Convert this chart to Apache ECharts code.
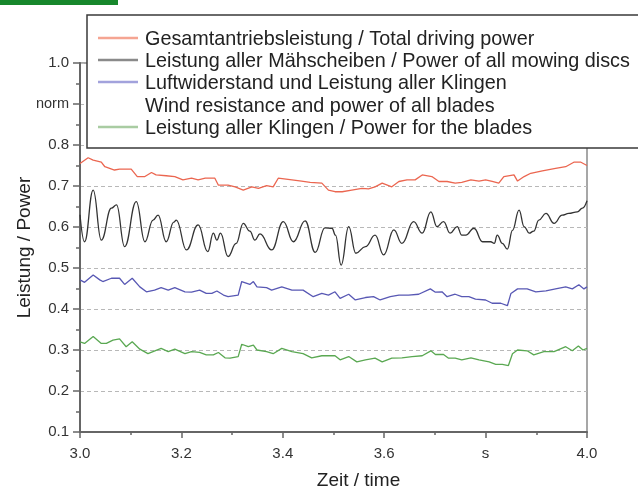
<!DOCTYPE html>
<html>
<head>
<meta charset="utf-8">
<script src="https://cdn.jsdelivr.net/npm/echarts@6/dist/echarts.min.js"></script>
<style>
html,body{margin:0;padding:0;background:#fff;}
#chart{width:638px;height:488px;}
</style>
</head>
<body>
<div id="chart"></div>
<script>
// ---- Data (time in s, normalised power) ----
const legendNames = [
  'Gesamtantriebsleistung / Total driving power',
  'Leistung aller Mähscheiben / Power of all mowing discs',
  'Luftwiderstand und Leistung aller Klingen',
  'Wind resistance and power of all blades',
  'Leistung aller Klingen / Power for the blades'
];
const xTickValues = [3.0, 3.2, 3.4, 3.6, 3.8, 4.0];
const xTickLabels = ['3.0', '3.2', '3.4', '3.6', 's', '4.0'];
const yTickValues = [0.1, 0.2, 0.3, 0.4, 0.5, 0.6, 0.7, 0.8, 0.9, 1.0];
const yTickLabels = ['0.1', '0.2', '0.3', '0.4', '0.5', '0.6', '0.7', '0.8', 'norm', '1.0'];

const totalPower = [[3.000,0.755],[3.016,0.769],[3.026,0.763],[3.042,0.758],[3.049,0.747],[3.068,0.739],[3.078,0.741],[3.101,0.741],[3.113,0.723],[3.128,0.723],[3.141,0.733],[3.150,0.727],[3.170,0.725],[3.187,0.723],[3.203,0.715],[3.220,0.719],[3.233,0.715],[3.247,0.719],[3.266,0.719],[3.273,0.702],[3.292,0.702],[3.306,0.698],[3.322,0.690],[3.339,0.698],[3.352,0.694],[3.368,0.701],[3.381,0.698],[3.391,0.719],[3.418,0.715],[3.437,0.712],[3.454,0.709],[3.477,0.707],[3.490,0.690],[3.503,0.686],[3.517,0.686],[3.536,0.690],[3.556,0.694],[3.569,0.693],[3.582,0.698],[3.596,0.707],[3.615,0.698],[3.629,0.711],[3.645,0.715],[3.661,0.715],[3.675,0.727],[3.694,0.723],[3.708,0.711],[3.724,0.711],[3.740,0.707],[3.753,0.709],[3.771,0.715],[3.787,0.712],[3.800,0.715],[3.813,0.711],[3.826,0.707],[3.836,0.723],[3.856,0.727],[3.863,0.712],[3.876,0.723],[3.889,0.731],[3.912,0.737],[3.938,0.743],[3.958,0.747],[3.974,0.758],[3.988,0.758],[4.000,0.750]];

const discsPower = [[3.000,0.630],[3.009,0.564],[3.026,0.690],[3.042,0.568],[3.062,0.646],[3.072,0.654],[3.088,0.552],[3.111,0.662],[3.128,0.564],[3.144,0.617],[3.154,0.629],[3.170,0.564],[3.185,0.612],[3.190,0.617],[3.210,0.544],[3.233,0.605],[3.252,0.540],[3.263,0.585],[3.270,0.568],[3.277,0.585],[3.292,0.528],[3.308,0.560],[3.322,0.609],[3.335,0.590],[3.345,0.568],[3.355,0.583],[3.378,0.544],[3.401,0.613],[3.421,0.564],[3.444,0.615],[3.464,0.538],[3.483,0.598],[3.497,0.597],[3.504,0.580],[3.515,0.507],[3.530,0.601],[3.544,0.536],[3.563,0.552],[3.582,0.580],[3.599,0.532],[3.619,0.593],[3.635,0.560],[3.658,0.613],[3.675,0.585],[3.692,0.637],[3.704,0.601],[3.717,0.613],[3.730,0.585],[3.744,0.601],[3.753,0.580],[3.761,0.580],[3.777,0.597],[3.794,0.564],[3.810,0.564],[3.817,0.560],[3.823,0.580],[3.833,0.560],[3.843,0.546],[3.853,0.592],[3.866,0.641],[3.876,0.601],[3.886,0.585],[3.895,0.590],[3.905,0.617],[3.919,0.633],[3.935,0.609],[3.951,0.629],[3.964,0.633],[3.981,0.637],[3.991,0.646],[4.000,0.664]];

const windBladesPower = [[3.000,0.471],[3.009,0.465],[3.026,0.483],[3.039,0.471],[3.045,0.467],[3.062,0.475],[3.078,0.475],[3.088,0.460],[3.103,0.475],[3.118,0.454],[3.131,0.442],[3.147,0.446],[3.160,0.452],[3.174,0.446],[3.187,0.452],[3.207,0.442],[3.220,0.441],[3.236,0.446],[3.249,0.438],[3.260,0.438],[3.270,0.444],[3.283,0.434],[3.292,0.430],[3.312,0.434],[3.319,0.467],[3.335,0.460],[3.342,0.467],[3.349,0.454],[3.368,0.452],[3.378,0.446],[3.398,0.454],[3.418,0.446],[3.440,0.446],[3.460,0.430],[3.477,0.438],[3.490,0.434],[3.503,0.442],[3.513,0.426],[3.530,0.436],[3.543,0.422],[3.563,0.428],[3.579,0.430],[3.592,0.422],[3.612,0.430],[3.629,0.434],[3.648,0.434],[3.668,0.436],[3.691,0.449],[3.701,0.441],[3.714,0.442],[3.724,0.430],[3.740,0.436],[3.753,0.430],[3.767,0.430],[3.780,0.424],[3.800,0.422],[3.813,0.414],[3.830,0.414],[3.843,0.408],[3.850,0.438],[3.863,0.449],[3.882,0.449],[3.899,0.442],[3.919,0.444],[3.938,0.449],[3.958,0.454],[3.971,0.449],[3.984,0.459],[3.994,0.449],[4.000,0.454]];

const bladesPower = [[3.000,0.320],[3.009,0.316],[3.026,0.333],[3.042,0.316],[3.052,0.316],[3.065,0.324],[3.078,0.327],[3.091,0.308],[3.103,0.320],[3.118,0.302],[3.134,0.291],[3.144,0.296],[3.160,0.304],[3.174,0.296],[3.187,0.302],[3.207,0.291],[3.220,0.296],[3.236,0.294],[3.249,0.288],[3.263,0.288],[3.273,0.294],[3.286,0.281],[3.296,0.280],[3.312,0.284],[3.319,0.314],[3.332,0.308],[3.342,0.312],[3.349,0.300],[3.368,0.296],[3.381,0.291],[3.398,0.304],[3.418,0.296],[3.440,0.291],[3.457,0.281],[3.477,0.286],[3.503,0.286],[3.513,0.276],[3.530,0.284],[3.546,0.271],[3.563,0.276],[3.582,0.280],[3.596,0.271],[3.615,0.280],[3.635,0.281],[3.655,0.284],[3.675,0.286],[3.692,0.298],[3.701,0.289],[3.717,0.289],[3.727,0.280],[3.740,0.280],[3.753,0.276],[3.771,0.281],[3.787,0.276],[3.807,0.271],[3.820,0.265],[3.833,0.265],[3.845,0.262],[3.853,0.291],[3.863,0.300],[3.882,0.298],[3.895,0.288],[3.915,0.296],[3.935,0.296],[3.958,0.308],[3.971,0.298],[3.983,0.310],[3.992,0.300],[4.000,0.304]];

// ---- Styles ----
const FONT = '"Liberation Sans", Arial, Helvetica, sans-serif';
const lineColors = ['#eb6650', '#333333', '#5858b4', '#5aa852'];
const legendColors = ['#f5a592', '#8a8a8a', '#a2a2dc', null, '#a9cca2'];
const axisColor = '#666';

function lookup(values, labels, v) {
  for (let i = 0; i < values.length; i++) {
    if (Math.abs(values[i] - v) < 1e-6) return labels[i];
  }
  return '';
}

const chart = echarts.init(document.getElementById('chart'), null, {renderer: 'canvas'});

const legendX = 98, legendLineLen = 40, legendTextX = 145;
const legendYs = [40, 62, 84, 107, 129];
const legendGraphics = [
  {type: 'rect', shape: {x: 87, y: 15, width: 570, height: 133}, style: {fill: '#fff', stroke: '#3a3a3a', lineWidth: 1.5}, z: 100}
];
legendNames.forEach((name, i) => {
  if (legendColors[i]) {
    legendGraphics.push({type: 'line', shape: {x1: legendX, y1: legendYs[i] - 2, x2: legendX + legendLineLen, y2: legendYs[i] - 2},
      style: {stroke: legendColors[i], lineWidth: 2.5}, z: 101});
  }
  legendGraphics.push({type: 'text', x: legendTextX, y: legendYs[i],
    style: {text: name, font: '19.8px ' + FONT, fill: '#222', textVerticalAlign: 'middle', textAlign: 'left'}, z: 101});
});

const option = {
  backgroundColor: '#fff',
  animation: false,
  grid: {left: 80, right: 51, top: 63, bottom: 56, containLabel: false, outerBoundsMode: 'none',
    show: true, borderColor: '#8a8a8a', borderWidth: 1.5, backgroundColor: 'transparent'},
  xAxis: {
    type: 'value', min: 3.0, max: 4.0, interval: 0.2,
    name: 'Zeit / time', nameLocation: 'middle', nameGap: 39, nameMoveOverlap: false,
    nameTextStyle: {fontFamily: FONT, fontSize: 19, color: '#222', padding: [0, 0, 0, 50]},
    axisLine: {show: true, onZero: false, lineStyle: {color: axisColor, width: 2}},
    axisTick: {show: true, length: 6, lineStyle: {color: axisColor, width: 1.5}},
    minorTick: {show: true, splitNumber: 2, length: 3, lineStyle: {color: axisColor, width: 1.5}},
    axisLabel: {fontFamily: FONT, fontSize: 15, color: '#333', margin: 14,
      formatter: v => lookup(xTickValues, xTickLabels, v)},
    splitLine: {show: false}
  },
  yAxis: {
    type: 'value', min: 0.1, max: 1.0, interval: 0.1,
    name: 'Leistung / Power', nameLocation: 'middle', nameGap: 46, nameMoveOverlap: false,
    nameTextStyle: {fontFamily: FONT, fontSize: 19, color: '#222'},
    axisLine: {show: true, onZero: false, lineStyle: {color: axisColor, width: 2}},
    axisTick: {show: true, length: 7, lineStyle: {color: axisColor, width: 1.5}},
    minorTick: {show: true, splitNumber: 2, length: 4, lineStyle: {color: axisColor, width: 1.5}},
    axisLabel: {fontFamily: FONT, fontSize: 15, color: '#333', margin: 11,
      formatter: v => {
        const s = lookup(yTickValues, yTickLabels, v);
        return s === 'norm' ? '{n|norm}' : s;
      },
      rich: {n: {fontFamily: FONT, fontSize: 14.5, color: '#333'}}},
    splitLine: {show: true, lineStyle: {color: '#b8b8b8', width: 1, type: [4, 3]}}
  },
  series: [
    {name: legendNames[0], type: 'line', data: totalPower, showSymbol: false, lineStyle: {color: lineColors[0], width: 1.3}, z: 3},
    {name: legendNames[1], type: 'line', data: discsPower, showSymbol: false, smooth: 0.45, smoothMonotone: 'x', lineStyle: {color: lineColors[1], width: 1.3}, z: 3},
    {name: legendNames[2], type: 'line', data: windBladesPower, showSymbol: false, lineStyle: {color: lineColors[2], width: 1.3}, z: 3},
    {name: legendNames[4], type: 'line', data: bladesPower, showSymbol: false, lineStyle: {color: lineColors[3], width: 1.3}, z: 3}
  ],
  graphic: [
    {type: 'rect', shape: {x: 0, y: 0, width: 118, height: 5}, style: {fill: '#17872c'}, z: 100},
    ...legendGraphics
  ]
};
chart.setOption(option);
</script>
</body>
</html>
